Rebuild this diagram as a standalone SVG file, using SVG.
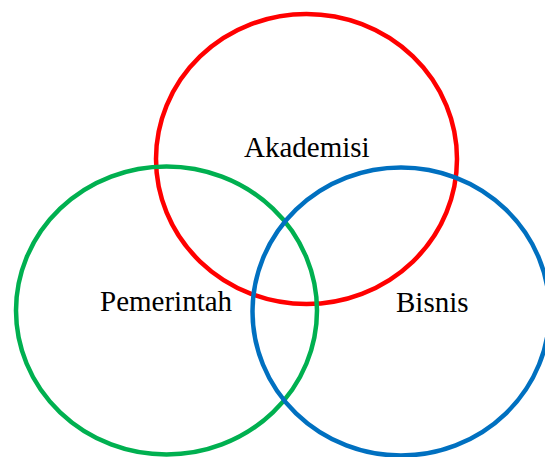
<svg xmlns="http://www.w3.org/2000/svg" width="545" height="457" viewBox="0 0 545 457">
<style>
.c{fill:none;stroke-width:4.5}
.t{font-family:"Liberation Serif","Times New Roman",serif;font-size:29px;fill:#000}
</style>
<rect width="545" height="457" fill="#fff"/>
<g id="akademisi">
<ellipse class="c" cx="306.5" cy="159" rx="150.5" ry="145" stroke="#FF0000"/>
<text class="t" x="244" y="157">Akademisi</text>
</g>
<g id="pemerintah">
<ellipse class="c" cx="166.5" cy="310.5" rx="150.5" ry="144" stroke="#00B050"/>
<text class="t" x="100" y="311">Pemerintah</text>
</g>
<g id="bisnis">
<ellipse class="c" cx="401" cy="311.5" rx="148.5" ry="144" stroke="#0070C0"/>
<text class="t" x="396" y="312">Bisnis</text>
</g>
<g id="connectors"></g>
</svg>
